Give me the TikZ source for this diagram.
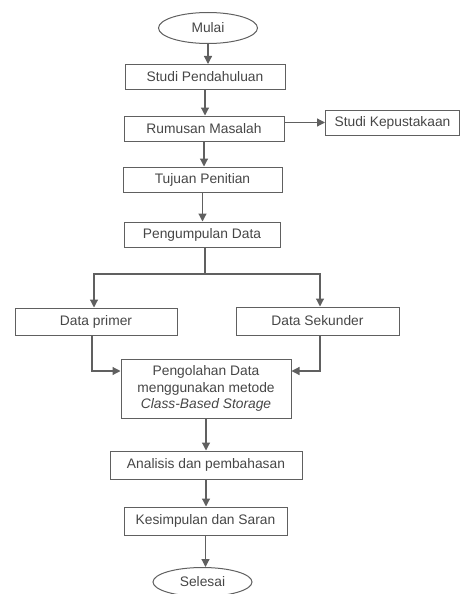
\documentclass[tikz,border=0pt]{standalone}
\usepackage{fontspec}
\setmainfont{Liberation Sans}
\usepackage{xcolor}
\usepackage{tikz}
\usetikzlibrary{positioning, shapes}
\usetikzlibrary{arrows.meta}
\definecolor{linegray}{RGB}{96,96,96}
\definecolor{textgray}{RGB}{70,70,70}

\begin{document}
\begin{tikzpicture}[x=1pt, y=-1pt]
            \tikzset{edge/.style = {draw=linegray, line width=1.2pt, -{Triangle[length=8pt, width=8pt]}}}
            \tikzset{plain/.style = {draw=linegray, line width=1.2pt}}
            \tikzset{box/.style = {draw=linegray, line width=1pt, rectangle, inner sep=0pt, align=center, text=textgray,
                font=\fontsize{13.8}{16.5}\selectfont}}
            \tikzset{term/.style = {box, ellipse}}

            \useasboundingbox (0, 0) rectangle (459, 594);

            % main column
            \node[term, minimum width=99, minimum height=31] (mulai) at (208, 28) {Mulai};
            \node[box, minimum width=160, minimum height=25] (studi) at (205, 77) {Studi Pendahuluan};
            \node[box, minimum width=160, minimum height=25] (rumusan) at (204, 128.5) {Rumusan Masalah};
            \node[box, minimum width=134, minimum height=25] (pustaka) at (392.5, 122.5) {Studi Kepustakaan};
            \node[box, minimum width=159, minimum height=25] (tujuan) at (202.5, 179.5) {Tujuan Penitian};
            \node[box, minimum width=156, minimum height=25] (kumpul) at (202, 234.5) {Pengumpulan Data};

            % two sources
            \node[box, minimum width=162, minimum height=27] (primer) at (96, 321.5) {Data primer};
            \node[box, minimum width=163, minimum height=28] (sekunder) at (317.5, 321) {Data Sekunder};
            \coordinate (split) at (205, 274);

            % processing and end
            \node[box, minimum width=170, minimum height=59] (olah) at (206, 388.5)
                {Pengolahan Data\\menggunakan metode\\\textit{Class-Based Storage}};
            \node[box, minimum width=192, minimum height=28] (analisis) at (206, 465) {Analisis dan pembahasan};
            \node[box, minimum width=163, minimum height=28] (simpul) at (205.5, 521) {Kesimpulan dan Saran};
            \node[term, minimum width=99, minimum height=29] (selesai) at (202.5, 582) {Selesai};

            % arrows
            \draw[edge] (mulai.south) -- (mulai.south |- studi.north);
            \draw[edge] (studi.south) -- (studi.south |- rumusan.north);
            \draw[edge] (rumusan.east |- pustaka) -- (pustaka.west);
            \draw[edge] (rumusan.south) -- (rumusan.south |- tujuan.north);
            \draw[edge] (tujuan.south) -- (tujuan.south |- kumpul.north);
            \draw[plain] (split |- kumpul.south) -- (split);
            \draw[edge] (split) -| ([xshift=-2pt]primer.north);
            \draw[edge] (split) -| ([xshift=2.5pt]sekunder.north);
            \draw[edge] ([xshift=-4pt]primer.south) |- ([yshift=17.5pt]olah.west);
            \draw[edge] ([xshift=2.5pt]sekunder.south) |- ([yshift=17.5pt]olah.east);
            \draw[edge] (olah.south) -- (olah.south |- analisis.north);
            \draw[edge] (analisis.south) -- (analisis.south |- simpul.north);
            \draw[edge] (simpul.south) -- (simpul.south |- selesai.north);
\end{tikzpicture}
\end{document}
